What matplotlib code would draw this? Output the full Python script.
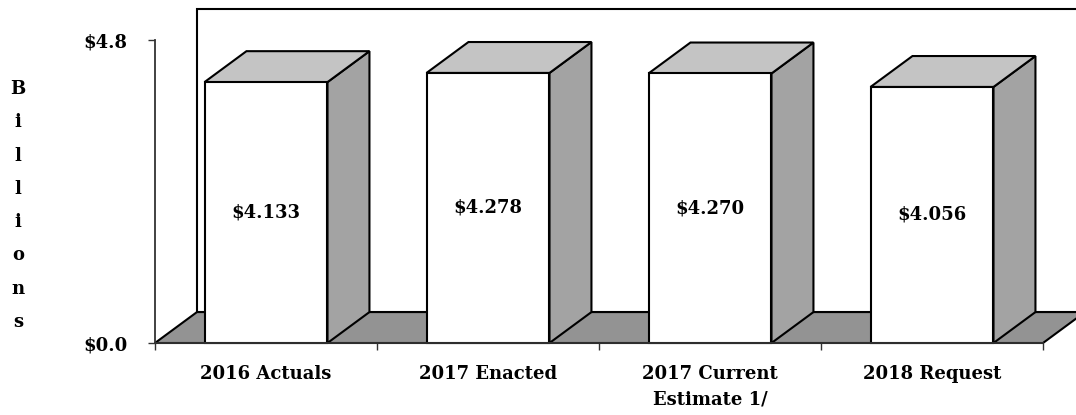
import matplotlib
matplotlib.use("Agg")
import matplotlib.pyplot as plt
from matplotlib.patches import Polygon, Rectangle

# budget figures, billions of dollars
categories = ["2016 Actuals", "2017 Enacted", "2017 Current\nEstimate 1/", "2018 Request"]
values = [4.133, 4.278, 4.270, 4.056]
value_labels = ["$4.133", "$4.278", "$4.270", "$4.056"]
y_ticks = [0.0, 4.8]
y_tick_labels = ["$0.0", "$4.8"]

plt.rcParams["font.family"] = ["DejaVu Serif"]
plt.rcParams["font.weight"] = "bold"

FONT = 13
FRONT = "white"
TOP = "#c4c4c4"
SIDE = "#a3a3a3"
FLOOR = "#939393"
EDGE = "black"
LW = 1.5

fig = plt.figure(figsize=(10.76, 4.15), dpi=100)
ax = fig.add_axes([155 / 1076, 72 / 415, 888 / 1076, 303 / 415])

n = len(categories)
ymax = 4.8
ax.set_xlim(0, n)
ax.set_ylim(0, ymax)

# depth of the 3-d effect, in data units
dx = 0.189
dy = 0.49
bar_w = 0.554

# back wall
wall = Polygon([(dx, dy), (n + dx, dy), (n + dx, ymax + dy), (dx, ymax + dy)],
               closed=True, facecolor="white", edgecolor=EDGE, lw=LW,
               clip_on=False, zorder=1)
ax.add_patch(wall)

# floor
floor = Polygon([(0, 0), (n, 0), (n + dx, dy), (dx, dy)], closed=True,
                facecolor=FLOOR, edgecolor=EDGE, lw=LW, clip_on=False, zorder=2)
ax.add_patch(floor)

for i, (v, lab) in enumerate(zip(values, value_labels)):
    x0 = i + (1 - bar_w) / 2
    x1 = x0 + bar_w
    side = Polygon([(x1, 0), (x1 + dx, dy), (x1 + dx, v + dy), (x1, v)],
                   closed=True, facecolor=SIDE, edgecolor=EDGE, lw=LW,
                   clip_on=False, zorder=3)
    top = Polygon([(x0, v), (x1, v), (x1 + dx, v + dy), (x0 + dx, v + dy)],
                  closed=True, facecolor=TOP, edgecolor=EDGE, lw=LW,
                  clip_on=False, zorder=3)
    front = Rectangle((x0, 0), bar_w, v, facecolor=FRONT, edgecolor=EDGE,
                      lw=LW, clip_on=False, zorder=4)
    ax.add_patch(side)
    ax.add_patch(top)
    ax.add_patch(front)
    ax.text(x0 + bar_w / 2, v / 2, lab.replace("$", r"\$"), ha="center",
            va="center", fontsize=FONT, fontweight="bold", zorder=5)

# axes
for s in ["top", "right"]:
    ax.spines[s].set_visible(False)
ax.spines["left"].set_color("#333333")
ax.spines["left"].set_linewidth(1.3)
ax.spines["bottom"].set_color("#333333")
ax.spines["bottom"].set_linewidth(1.3)
ax.spines["bottom"].set_zorder(6)

ax.set_yticks(y_ticks)
ax.set_yticklabels([t.replace("$", r"\$") for t in y_tick_labels],
                   fontsize=FONT, fontweight="bold")
ax.tick_params(axis="y", direction="out", length=5, width=1, pad=15,
               color="#333333")

ax.set_xticks(range(n + 1))
ax.set_xticklabels([])
ax.set_xticks([i + 0.5 for i in range(n)], minor=True)
ax.set_xticklabels(categories, minor=True, fontsize=FONT, fontweight="bold",
                   linespacing=1.55)
ax.tick_params(axis="x", which="minor", length=0, pad=16)
ax.tick_params(axis="x", which="major", direction="out", length=5, width=1,
               color="#333333")

# stacked axis title
word = "Billions"
y_first, y_step = 89, 33.3
for k, ch in enumerate(word):
    fig.text(18 / 1076, 1 - (y_first + k * y_step) / 415, ch, ha="center",
             va="center", fontsize=FONT, fontweight="bold")

fig.savefig("out.png", dpi=100)
